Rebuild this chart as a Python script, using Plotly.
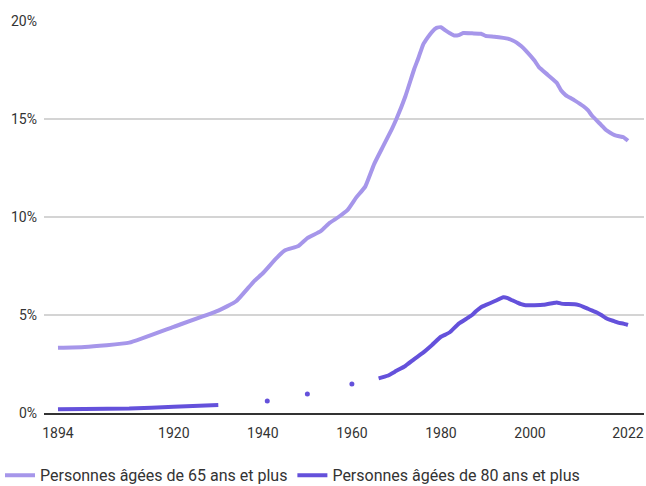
import plotly.graph_objects as go

# Part de la population âgée (en %)
years_65 = [1894, 1900, 1910, 1920, 1930, 1934, 1938, 1940, 1943, 1945, 1948, 1950,
            1953, 1955, 1957, 1959, 1961, 1963, 1965, 1967, 1969, 1970, 1972, 1974,
            1975, 1976, 1977, 1978, 1979, 1980, 1981, 1982, 1983, 1984, 1985, 1987,
            1989, 1990, 1992, 1994, 1995, 1996, 1997, 1998, 1999, 2001, 2002, 2004,
            2006, 2007, 2008, 2009, 2010, 2012, 2013, 2014, 2016, 2017, 2018, 2019,
            2020, 2021, 2022]
share_65 = [3.33, 3.37, 3.59, 4.40, 5.22, 5.70, 6.72, 7.13, 7.89, 8.30, 8.52, 8.92,
            9.28, 9.70, 10.00, 10.35, 11.00, 11.55, 12.70, 13.60, 14.50, 15.00, 16.15, 17.55,
            18.15, 18.80, 19.15, 19.45, 19.65, 19.68, 19.52, 19.38, 19.26, 19.28, 19.39, 19.37,
            19.35, 19.24, 19.20, 19.14, 19.10, 19.02, 18.90, 18.72, 18.50, 17.98, 17.65, 17.25,
            16.85, 16.45, 16.22, 16.08, 15.95, 15.65, 15.45, 15.15, 14.69, 14.45, 14.30, 14.18,
            14.12, 14.07, 13.89]

years_80 = [1894, 1900, 1910, 1920, 1930, 1935, 1941, 1945, 1950, 1955, 1960, 1963,
            1966, 1968, 1970, 1972, 1974, 1976, 1978, 1980, 1981, 1982, 1984, 1986,
            1987, 1988, 1989, 1990, 1992, 1994, 1995, 1996, 1997, 1998, 1999, 2001,
            2003, 2005, 2006, 2007, 2008, 2010, 2011, 2012, 2013, 2014, 2015, 2016,
            2017, 2018, 2019, 2020, 2021, 2022]
share_80 = [0.19, 0.21, 0.23, 0.32, 0.41, None, 0.61, None, 0.97, None, 1.48, None,
            1.77, 1.90, 2.15, 2.40, 2.75, 3.08, 3.47, 3.89, 4.00, 4.12, 4.56, 4.85,
            5.00, 5.22, 5.40, 5.50, 5.70, 5.90, 5.86, 5.75, 5.65, 5.55, 5.50, 5.50,
            5.52, 5.60, 5.64, 5.58, 5.56, 5.55, 5.50, 5.42, 5.32, 5.22, 5.13, 5.00,
            4.85, 4.75, 4.68, 4.60, 4.56, 4.49]

x_ticks = [1894, 1920, 1940, 1960, 1980, 2000, 2022]
y_ticks = [0, 5, 10, 15, 20]

label_65 = "Personnes âgées de 65 ans et plus"
label_80 = "Personnes âgées de 80 ans et plus"
color_65 = "#a696ea"
color_80 = "#6451db"

# Years surrounded by missing values cannot be drawn as a line: show them as dots
iso_x, iso_y = [], []
for i, v in enumerate(share_80):
    if v is None:
        continue
    prev_missing = i == 0 or share_80[i - 1] is None
    next_missing = i == len(share_80) - 1 or share_80[i + 1] is None
    if prev_missing and next_missing:
        iso_x.append(years_80[i])
        iso_y.append(v)

fig = go.Figure()
fig.add_trace(go.Scatter(x=years_65, y=share_65, mode="lines", name=label_65,
                         line=dict(color=color_65, width=4, shape="spline", smoothing=0.4)))
fig.add_trace(go.Scatter(x=years_80, y=share_80, mode="lines", name=label_80,
                         line=dict(color=color_80, width=4, shape="spline", smoothing=0.4)))
fig.add_trace(go.Scatter(x=iso_x, y=iso_y, mode="markers", showlegend=False,
                         marker=dict(color=color_80, size=5)))

fig.update_layout(
    width=646, height=486,
    margin=dict(l=44, r=2, t=21, b=73),
    paper_bgcolor="white", plot_bgcolor="white",
    font=dict(family="Roboto", size=14, color="#333333"),
    showlegend=True,
    legend=dict(orientation="h", xref="container", yref="container",
                x=-0.009, y=0.022, xanchor="left", yanchor="middle",
                font=dict(size=16, color="#333333"), itemwidth=30,
                tracegroupgap=0),
    xaxis=dict(range=[1890.86, 2025.6], tickvals=x_ticks, ticktext=[str(v) for v in x_ticks],
               showgrid=False, zeroline=False, showline=True, linecolor="#333333",
               linewidth=2, ticks="", ticklabelstandoff=6),
    yaxis=dict(range=[0, 20], tickvals=y_ticks, ticktext=[f"{v}%" for v in y_ticks],
               showgrid=True, gridcolor="#d4d4d4", gridwidth=1.5, zeroline=False,
               showline=False, ticks="", ticklabelstandoff=6),
)

fig.write_html("out.html")
